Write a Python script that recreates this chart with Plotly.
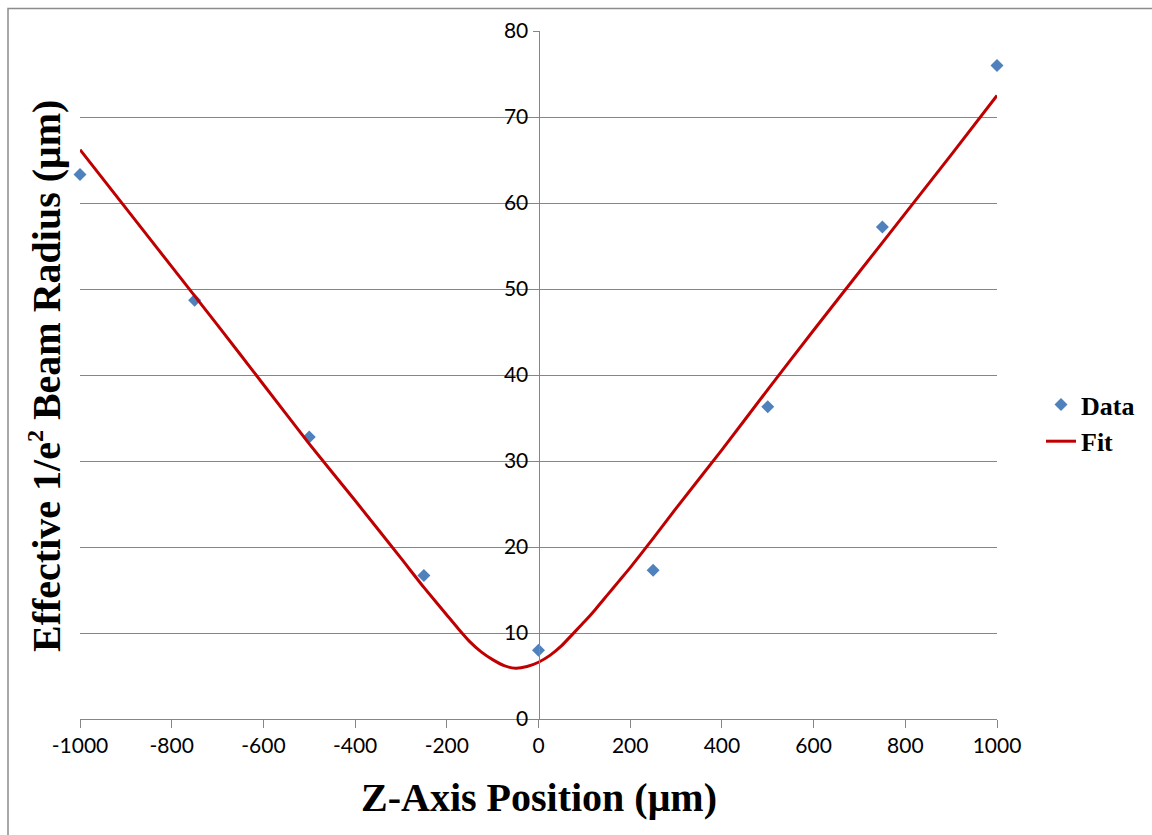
import plotly.graph_objects as go

# Measured beam radius at each Z position
z_data = [-1000, -750, -500, -250, 0, 250, 500, 750, 1000]
r_data = [63.3, 48.7, 32.8, 16.7, 8.0, 17.3, 36.3, 57.2, 76.0]

# Fitted beam radius curve
z_fit = [-1000, -900, -800, -700, -600, -500, -400, -300, -250, -200, -175, -150, -125,
         -100, -75, -50, -25, 0, 25, 50, 75, 100, 125, 150, 175, 200, 250, 300,
         400, 500, 600, 700, 800, 900, 1000]
r_fit = [66.2, 59.4, 52.6, 45.8, 38.9, 32.0, 25.4, 18.7, 15.3, 12.1, 10.5, 9.0, 7.8,
         6.9, 6.2, 5.9, 6.1, 6.6, 7.4, 8.5, 9.9, 11.3, 12.8, 14.4, 16.0, 17.6, 21.0, 24.5,
         31.3, 38.3, 45.2, 52.0, 58.8, 65.6, 72.5]

x_ticks = list(range(-1000, 1001, 200))
y_ticks = list(range(0, 81, 10))

W, H = 1152, 835
L, R, T, B = 80, 155, 31, 116
pw, ph = W - L - R, H - T - B

def px(x):
    return (x - L) / pw

def py(y):
    return (H - B - y) / ph

axis_grey = "#868686"
tick_font = dict(family="Lato", size=21, color="black")
title_font = dict(family="Liberation Serif", size=40, color="black", weight="bold")

fig = go.Figure()
fig.add_trace(go.Scatter(
    x=z_data, y=r_data, mode="markers", name="Data",
    marker=dict(symbol="diamond", size=10, color="#4F81BD"),
    cliponaxis=False,
))
fig.add_trace(go.Scatter(
    x=z_fit, y=r_fit, mode="lines", name="Fit",
    line=dict(color="#C00000", width=3, shape="spline", smoothing=0.5),
    cliponaxis=False,
))

fig.update_layout(
    width=W, height=H,
    margin=dict(l=L, r=R, t=T, b=B),
    paper_bgcolor="white", plot_bgcolor="white",
    showlegend=True,
    legend=dict(
        x=px(1041), y=py(423), xanchor="left", yanchor="middle",
        font=dict(family="Liberation Serif", size=26, color="black", weight="bold"),
        bgcolor="rgba(0,0,0,0)", itemwidth=30, tracegroupgap=0,
    ),
    xaxis=dict(
        range=[-1000, 1000], tickvals=x_ticks, ticktext=[str(v) for v in x_ticks],
        showgrid=False, zeroline=False, showline=True, linecolor=axis_grey, linewidth=1,
        ticks="outside", ticklen=8, tickcolor=axis_grey, tickfont=tick_font,
    ),
    yaxis=dict(
        range=[0, 80], tickvals=y_ticks, ticktext=[str(v) for v in y_ticks],
        anchor="free", position=0.5,
        showgrid=True, gridcolor=axis_grey, gridwidth=1,
        zeroline=False, showline=True, linecolor=axis_grey, linewidth=1,
        ticks="outside", ticklen=6, tickcolor=axis_grey, tickfont=tick_font,
    ),
    annotations=[
        dict(text="Z-Axis Position (\u03bcm)", x=0.5, y=py(797), xref="paper", yref="paper",
             xanchor="center", yanchor="middle", showarrow=False, font=title_font),
        dict(text="Effective 1/e<sup><span style='font-size:24px'>2</span></sup> Beam Radius (\u03bcm)",
             x=px(45), y=py(376),
             xref="paper", yref="paper", xanchor="center", yanchor="middle",
             textangle=-90, showarrow=False, font=title_font),
    ],
    shapes=[
        dict(type="rect", xref="paper", yref="paper",
             x0=px(8), x1=px(1200), y0=py(900), y1=py(8.5),
             line=dict(color="#8c8c8c", width=1.5), fillcolor="rgba(0,0,0,0)", layer="below"),
    ],
)

fig.write_html("out.html")
